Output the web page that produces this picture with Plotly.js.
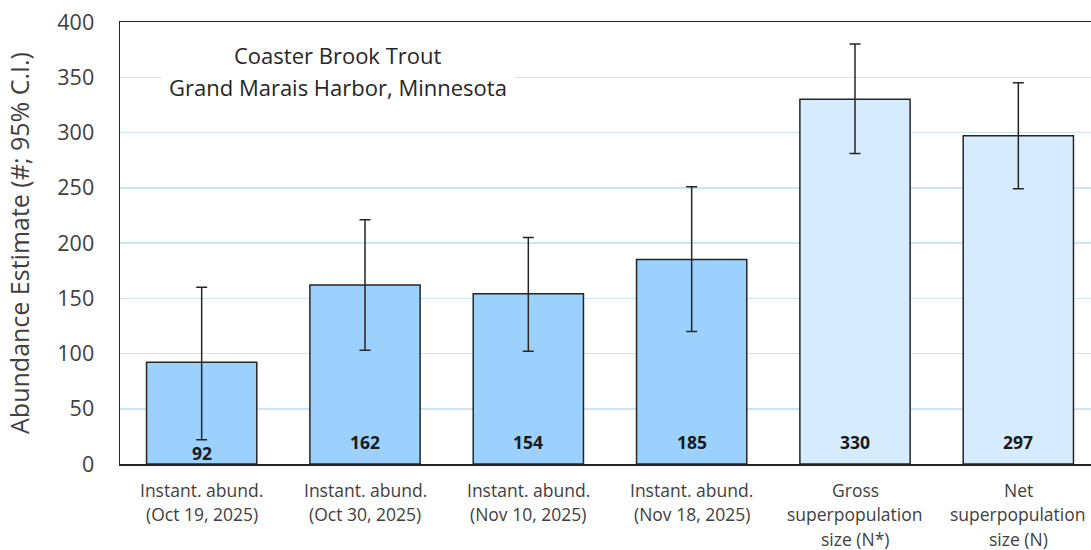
<!DOCTYPE html>
<html>
<head>
<meta charset="utf-8">
<script src="https://cdn.plot.ly/plotly-3.0.1.min.js"></script>
<style>
html,body{margin:0;padding:0;overflow:hidden;background:#fff;}
#chart{width:1105px;height:550px;}
</style>
</head>
<body>
<div id="chart"></div>
<script>
// ---- data ----
const categories = [
  "Instant. abund.<br>(Oct 19, 2025)",
  "Instant. abund.<br>(Oct 30, 2025)",
  "Instant. abund.<br>(Nov 10, 2025)",
  "Instant. abund.<br>(Nov 18, 2025)",
  "Gross<br>superpopulation<br>size (N*)",
  "Net<br>superpopulation<br>size (N)"
];
const values = [92, 162, 154, 185, 330, 297];
const ciLow  = [22, 103, 102, 120, 281, 249];
const ciHigh = [160, 221, 205, 251, 380, 345];
const estimateType = ["instant","instant","instant","instant","super","super"];
const yTickVals = [0, 50, 100, 150, 200, 250, 300, 350, 400];
const titleLines = ["Coaster Brook Trout", "Grand Marais Harbor, Minnesota"];
const yTitle = "Abundance Estimate (#; 95% C.I.)";

// ---- styles ----
const FONT = "Open Sans, Noto Sans, sans-serif";
const colorFor = {instant: "#9dd1fd", super: "#d6ebfd"};
const ink = "#262626";

const trace = {
  type: "bar",
  x: categories,
  y: values,
  width: 0.675,
  marker: {color: estimateType.map(t => colorFor[t]), line: {color: ink, width: 1.5}},
  error_y: {
    type: "data", symmetric: false,
    array: ciHigh.map((h, i) => h - values[i]),
    arrayminus: ciLow.map((l, i) => values[i] - l),
    color: ink, thickness: 1.5, width: 5.5
  },
  hoverinfo: "x+y"
};

const annotations = [];
// category labels, one line each
categories.forEach((c, i) => {
  c.split("<br>").forEach((line, k) => {
    annotations.push({
      x: c, y: 0, xref: "x", yref: "y", text: line, showarrow: false,
      yanchor: "middle", yshift: -26 - k * 24.3,
      font: {family: FONT, size: 17.5, color: "#404040"}
    });
  });
});
// value labels inside base of bars
values.forEach((v, i) => {
  annotations.push({
    x: categories[i], y: 0, xref: "x", yref: "y", text: String(v), showarrow: false,
    yanchor: "middle", yshift: i === 0 ? 11 : 22,
    font: {family: FONT, size: 17.5, color: "#1a1a1a", weight: "bold"}
  });
});
// chart title lines
titleLines.forEach((t, k) => {
  annotations.push({
    x: 0.2224, y: k === 0 ? 0.925 : 0.8535, xref: "paper", yref: "paper",
    text: t, showarrow: false, xanchor: "center", yanchor: "middle",
    bgcolor: k === 0 ? "rgba(0,0,0,0)" : "#ffffff", borderpad: 7,
    font: {family: FONT, size: 22, color: "#262626"}
  });
});

const layout = {
  width: 1105, height: 550,
  margin: {l: 120, r: 5, t: 22, b: 86},
  paper_bgcolor: "#ffffff", plot_bgcolor: "#ffffff",
  showlegend: false,
  bargap: 0.325,
  font: {family: FONT, color: "#404040"},
  xaxis: {
    type: "category", showticklabels: false, showgrid: false,
    showline: true, linecolor: ink, linewidth: 1.5, mirror: true,
    range: [-0.5, 5.5], fixedrange: true
  },
  yaxis: {
    range: [0, 400], tickvals: yTickVals, ticks: "", ticklabelstandoff: 20,
    tickfont: {family: FONT, size: 21.5, color: "#404040"},
    showgrid: true, gridcolor: "#cce4f8", gridwidth: 1.5,
    showline: true, linecolor: ink, linewidth: 1.5, mirror: true,
    zeroline: false,
    title: {text: yTitle, standoff: 20, font: {family: FONT, size: 25, color: "#404040"}}
  },
  annotations: annotations
};

Plotly.newPlot("chart", [trace], layout, {displayModeBar: false, staticPlot: true});
</script>
</body>
</html>
